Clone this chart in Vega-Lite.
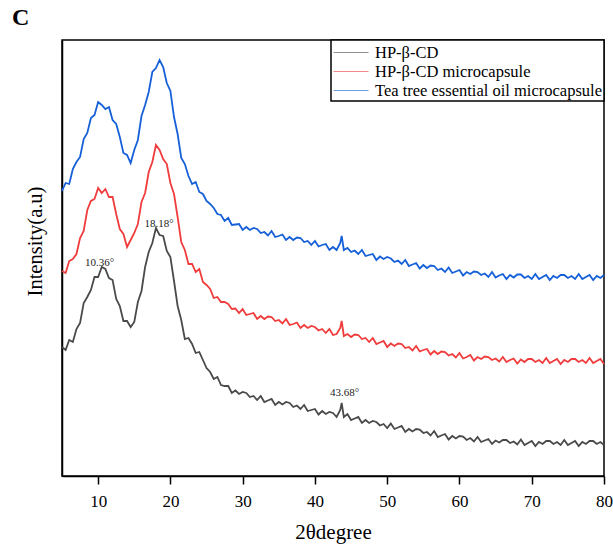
{
 "$schema": "https://vega.github.io/schema/vega-lite/v6.json",
 "width": 542,
 "height": 436,
 "autosize": {"type": "none"},
 "padding": {"left": 62, "top": 40, "right": 9, "bottom": 69},
 "title": {"text": "C", "anchor": "start", "frame": "group", "dx": -50, "offset": 9, "fontSize": 24, "font": "Liberation Serif", "fontWeight": "bold", "color": "black"},
 "config": {"view": {"stroke": "black", "strokeWidth": 1.5}, "font": "Liberation Serif"},
 "layer": [
  {
   "data": {"values": [
    {"x":5,"g":129,"r":205,"b":285},{"x":5.5,"g":126,"r":203,"b":293},{"x":6,"g":136,"r":215,"b":292},{"x":6.5,"g":134,"r":217,"b":307},
    {"x":7,"g":147,"r":222,"b":314},{"x":7.5,"g":153,"r":238,"b":319},{"x":8,"g":173,"r":245,"b":337},{"x":8.5,"g":179,"r":266,"b":343},
    {"x":9,"g":186,"r":275,"b":358},{"x":9.5,"g":199,"r":277,"b":361},{"x":10,"g":199,"r":288,"b":374},{"x":10.5,"g":209,"r":283,"b":371},
    {"x":11,"g":207,"r":287,"b":367},{"x":11.5,"g":198,"r":279,"b":369},{"x":12,"g":196,"r":279,"b":356},{"x":12.5,"g":177,"r":262,"b":352},
    {"x":13,"g":170,"r":247,"b":339},{"x":13.5,"g":155,"r":242,"b":323},{"x":14,"g":155,"r":229,"b":321},{"x":14.5,"g":149,"r":236,"b":313},
    {"x":15,"g":154,"r":243,"b":326},{"x":15.5,"g":174,"r":252,"b":336},{"x":16,"g":185,"r":274,"b":360},{"x":16.5,"g":209,"r":283,"b":371},
    {"x":17,"g":224,"r":304,"b":384},{"x":17.5,"g":233,"r":314,"b":404},{"x":18,"g":248,"r":331,"b":408},{"x":18.5,"g":241,"r":326,"b":416},
    {"x":19,"g":240,"r":317,"b":409},{"x":19.5,"g":225,"r":312,"b":393},{"x":20,"g":219,"r":293,"b":385},{"x":20.5,"g":195,"r":282,"b":359},
    {"x":21,"g":170,"r":259,"b":342},{"x":21.5,"g":156,"r":234,"b":318},{"x":22,"g":137,"r":226,"b":312},{"x":22.5,"g":138,"r":212,"b":300},
    {"x":23,"g":132,"r":212,"b":292},{"x":23.5,"g":123,"r":204,"b":294},{"x":24,"g":124,"r":207,"b":284},{"x":24.5,"g":116,"r":194,"b":282},
    {"x":25,"g":108,"r":191,"b":275},{"x":25.5,"g":104,"r":187,"b":272},{"x":26,"g":97,"r":178,"b":268},{"x":26.5,"g":99,"r":179,"b":262},
    {"x":27,"g":91,"r":174,"b":261},{"x":27.5,"g":90,"r":174,"b":255},{"x":28,"g":90,"r":172,"b":258},{"x":28.5,"g":83,"r":167,"b":251},
    {"x":29,"g":85.5,"r":167.5,"b":251.5},{"x":29.5,"g":82,"r":163,"b":252},{"x":30,"g":84,"r":167,"b":246},{"x":30.5,"g":83,"r":161,"b":249},
    {"x":31,"g":79,"r":162,"b":246},{"x":31.5,"g":80,"r":163,"b":248},{"x":32,"g":76,"r":157,"b":247},{"x":32.5,"g":80,"r":160,"b":243},
    {"x":33,"g":74,"r":157,"b":244},{"x":33.5,"g":75.5,"r":159.5,"b":240.5},{"x":34,"g":77,"r":159,"b":245},{"x":34.5,"g":71,"r":155,"b":239},
    {"x":35,"g":74,"r":156,"b":240},{"x":35.5,"g":71.5,"r":152.5,"b":241.5},{"x":36,"g":74,"r":157,"b":236},{"x":36.5,"g":73,"r":151,"b":239},
    {"x":37,"g":69,"r":152,"b":236},{"x":37.5,"g":70.5,"r":153.5,"b":238.5},{"x":38,"g":67,"r":148,"b":238},{"x":38.5,"g":71,"r":151,"b":234},
    {"x":39,"g":65,"r":148,"b":235},{"x":39.5,"g":66,"r":150,"b":231},{"x":40,"g":67,"r":149,"b":235},{"x":40.5,"g":61.5,"r":145.5,"b":229.5},
    {"x":41,"g":65,"r":147,"b":231},{"x":41.5,"g":62,"r":143,"b":232},{"x":42,"g":64,"r":147,"b":226},{"x":42.5,"g":63,"r":141,"b":229},
    {"x":43,"g":59,"r":142,"b":226},{"x":43.5,"g":66,"r":148,"b":233},{"x":43.7,"g":73,"r":155,"b":240},{"x":44,"g":59,"r":140,"b":226},
    {"x":44.5,"g":62,"r":142,"b":228},{"x":45,"g":56,"r":139,"b":224},{"x":45.5,"g":57.5,"r":141.5,"b":225.5},{"x":46,"g":59,"r":141,"b":222},
    {"x":46.5,"g":53,"r":137,"b":226},{"x":47,"g":56,"r":138,"b":220},{"x":47.5,"g":53,"r":134,"b":221},{"x":48,"g":55,"r":138,"b":222},
    {"x":48.5,"g":54,"r":132,"b":216},{"x":49,"g":50.5,"r":133.5,"b":219.5},{"x":49.5,"g":52,"r":135,"b":217},{"x":50,"g":48,"r":129,"b":219},
    {"x":50.5,"g":52.5,"r":132.5,"b":217.5},{"x":51,"g":47,"r":130,"b":214},{"x":51.5,"g":48.5,"r":132.5,"b":215.5},{"x":52,"g":50,"r":132,"b":212},
    {"x":52.5,"g":44,"r":128,"b":216},{"x":53,"g":47,"r":129,"b":210},{"x":53.5,"g":44.5,"r":125.5,"b":211.5},{"x":54,"g":47,"r":130,"b":213},
    {"x":54.5,"g":46.5,"r":124.5,"b":207.5},{"x":55,"g":43,"r":126,"b":211},{"x":55.5,"g":44,"r":127,"b":208},{"x":56,"g":40.5,"r":121.5,"b":210.5},
    {"x":56.5,"g":45,"r":125,"b":210},{"x":57,"g":39,"r":122,"b":206},{"x":57.5,"g":40.5,"r":124.5,"b":207.5},{"x":58,"g":42,"r":124,"b":204},
    {"x":58.5,"g":36.5,"r":120.5,"b":208.5},{"x":59,"g":40,"r":122,"b":203},{"x":59.5,"g":37.5,"r":118.5,"b":204.5},{"x":60,"g":40,"r":123,"b":206},
    {"x":60.5,"g":39.5,"r":117.5,"b":200.5},{"x":61,"g":36,"r":119,"b":204},{"x":61.5,"g":38,"r":121,"b":202},{"x":62,"g":34.5,"r":115.5,"b":204.5},
    {"x":62.5,"g":39,"r":119,"b":204},{"x":63,"g":34,"r":117,"b":201},{"x":63.5,"g":35.5,"r":119.5,"b":202.5},{"x":64,"g":37,"r":119,"b":199},
    {"x":64.5,"g":32,"r":116,"b":204},{"x":65,"g":35.5,"r":117.5,"b":198.5},{"x":65.5,"g":33.5,"r":114.5,"b":200.5},{"x":66,"g":36,"r":119,"b":202},
    {"x":66.5,"g":36,"r":114,"b":197},{"x":67,"g":33,"r":116,"b":201},{"x":67.5,"g":34.5,"r":117.5,"b":198.5},{"x":68,"g":31.5,"r":112.5,"b":201.5},
    {"x":68.5,"g":36.5,"r":116.5,"b":201.5},{"x":69,"g":31,"r":114,"b":198},{"x":69.5,"g":33,"r":117,"b":200},{"x":70,"g":35,"r":117,"b":197},
    {"x":70.5,"g":30,"r":114,"b":202},{"x":71,"g":34,"r":116,"b":197},{"x":71.5,"g":32,"r":113,"b":199},{"x":72,"g":35,"r":118,"b":201},
    {"x":72.5,"g":35,"r":113,"b":196},{"x":73,"g":32,"r":115,"b":200},{"x":73.5,"g":34,"r":117,"b":198},{"x":74,"g":31,"r":112,"b":201},
    {"x":74.5,"g":36,"r":116,"b":201},{"x":75,"g":31,"r":114,"b":198},{"x":75.5,"g":33,"r":117,"b":200},{"x":76,"g":35,"r":117,"b":197},
    {"x":76.5,"g":30,"r":114,"b":202},{"x":77,"g":34,"r":116,"b":197},{"x":77.5,"g":32,"r":113,"b":199},{"x":78,"g":35,"r":118,"b":201},
    {"x":78.5,"g":35,"r":113,"b":196},{"x":79,"g":32,"r":115,"b":200},{"x":79.5,"g":34,"r":117,"b":198},{"x":80,"g":31,"r":112,"b":201}
   ]},
   "transform": [{"fold": ["g", "r", "b"], "as": ["s", "v"]}],
   "mark": {"type": "line", "strokeWidth": 1.8},
   "encoding": {
    "x": {"field": "x", "type": "quantitative", "scale": {"domain": [5, 80], "nice": false, "zero": false},
     "axis": {"values": [10,20,30,40,50,60,70,80], "title": "2θdegree", "titleFontSize": 21, "titleFont": "Liberation Serif", "titleFontWeight": "normal", "titleColor": "black", "titleY": 56, "titleBaseline": "middle",
      "labelFontSize": 17, "labelColor": "black", "labelFont": "Liberation Serif", "labelPadding": 9, "tickSize": 8, "tickColor": "black", "tickWidth": 1.5, "domainColor": "black", "domainWidth": 1.5, "grid": false, "labelFlush": false, "labelOverlap": false}},
    "y": {"field": "v", "type": "quantitative", "scale": {"domain": [0, 436], "nice": false},
     "axis": {"title": "Intensity(a.u)", "ticks": false, "labels": false, "grid": false, "domainColor": "black", "domainWidth": 1.5, "titleFontSize": 20.5, "titleFont": "Liberation Serif", "titleFontWeight": "normal", "titleColor": "black", "titleX": -27, "titleY": 201, "titleAngle": -90, "titleAlign": "center", "titleBaseline": "middle"}},
    "color": {"field": "s", "type": "nominal", "scale": {"domain": ["g", "r", "b"], "range": ["#4a4a4a", "#f03c3c", "#1560d8"]},
     "legend": {"title": null, "orient": "top-right", "offset": 0, "strokeColor": "black", "fillColor": "white", "padding": 2, "symbolType": "M-1,0H2.5", "symbolSize": 400, "symbolStrokeWidth": 1, "symbolOpacity": 0.6,
      "labelFontSize": 16.5, "labelFont": "Liberation Serif", "labelColor": "black", "labelOffset": 21, "labelLimit": 400, "rowPadding": 0,
      "labelExpr": "datum.label == 'g' ? 'HP-β-CD' : datum.label == 'r' ? 'HP-β-CD microcapsule' : 'Tea tree essential oil microcapsule'",
      "encode": {"legend": {"update": {"strokeWidth": {"value": 1.5}}}}}}
   }
  },
  {
   "data": {"values": [{"t": "10.36°", "x": 10.2, "y": 213}, {"t": "18.18°", "x": 18.45, "y": 252}, {"t": "43.68°", "x": 44.1, "y": 83}]},
   "mark": {"type": "text", "fontSize": 11, "font": "Liberation Serif", "color": "#222222"},
   "encoding": {
    "x": {"field": "x", "type": "quantitative"},
    "y": {"field": "y", "type": "quantitative"},
    "text": {"field": "t"}
   }
  }
 ]
}
